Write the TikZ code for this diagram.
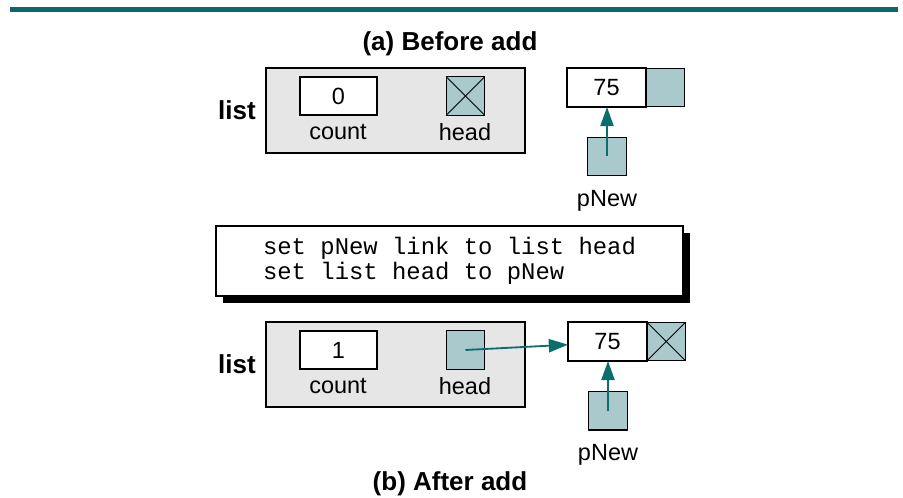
\documentclass[tikz,border=0pt]{standalone}
\usepackage{fontspec}
\setmainfont{Liberation Sans}
\setmonofont{Liberation Mono}
\definecolor{rulteal}{HTML}{0B6868}
\definecolor{lnkteal}{HTML}{0B6E6E}
\definecolor{ptrfill}{HTML}{A9C9CC}
\definecolor{lstgray}{HTML}{E6E6E6}
\usetikzlibrary{arrows.meta, positioning, shadows}

\begin{document}
\begin{tikzpicture}[
  lstbox/.style={draw, fill=lstgray, line width=0.8pt, outer sep=0pt,
                 minimum width=6.475cm, minimum height=2.125cm},
  fieldbox/.style={draw, fill=white, line width=0.8pt, outer sep=0pt,
                   minimum width=1.925cm, minimum height=0.95cm,
                   font=\fontsize{16.7}{20}\selectfont},
  databox/.style={fieldbox, minimum width=1.975cm, minimum height=0.975cm},
  ptrbox/.style={draw, fill=ptrfill, line width=0.8pt, outer sep=0pt,
                 minimum size=0.96cm, inner sep=0pt},
  nilbox/.style={ptrbox, path picture={
                   \draw[line width=0.6pt] (path picture bounding box.north west)
                     -- (path picture bounding box.south east)
                     (path picture bounding box.south west)
                     -- (path picture bounding box.north east);}},
  lbl/.style={font=\fontsize{16.7}{20}\selectfont, inner sep=0pt},
  ttl/.style={font=\fontsize{18.5}{22}\selectfont\bfseries, inner sep=0pt},
  codebox/.style={draw, fill=white, line width=0.8pt, align=left,
                  minimum width=11.675cm, minimum height=1.75cm,
                  font=\fontsize{17}{17.8}\selectfont\ttfamily,
                  drop shadow={shadow xshift=0.17cm, shadow yshift=-0.17cm,
                               fill=black, opacity=1}},
  link/.style={-{Triangle[length=0.48cm, width=0.33cm]}, draw=lnkteal,
               fill=lnkteal, line width=1.3pt},
]
  \useasboundingbox (0,0) rectangle (22.575,-12.45);
  \fill[rulteal] (0.25,-0.175) rectangle (22.45,-0.3);

  % (a) before add
  \node[ttl] (ttla) at (11.25,-1.09) {(a) Before add};
  \node[lstbox] (lista) at (9.8875,-2.7625) {};
  \node[ttl] (lstlbla) at (5.925,-2.75) {list};
  \node[fieldbox] (counta) at (8.4625,-2.4) {0};
  \node[nilbox] (heada) at (11.6375,-2.4) {};
  \node[lbl] (cntlbla) at (8.45,-3.31) {count};
  \node[lbl] (hdlbla) at (11.625,-3.31) {head};

  \node[databox] (dataa) at (15.1625,-2.1875) {75};
  \node[ptrbox, right=0pt of dataa] (linka) {};
  \node[ptrbox] (pnewa) at (15.175,-3.9125) {};
  \node[lbl] (pnlbla) at (15.175,-5.02) {pNew};
  \draw[link] (pnewa.center) -- (dataa.south -| pnewa.center);

  % algorithm
  \node[codebox] (algo) at (11.2375,-6.525)
    {set pNew link to list head\\set list head to pNew};

  % (b) after add
  \node[lstbox] (listb) at (9.8875,-9.1125) {};
  \node[ttl] (lstlblb) at (5.925,-9.1) {list};
  \node[fieldbox] (countb) at (8.4625,-8.75) {1};
  \node[ptrbox] (headb) at (11.6375,-8.75) {};
  \node[lbl] (cntlblb) at (8.45,-9.66) {count};
  \node[lbl] (hdlblb) at (11.625,-9.66) {head};

  \node[databox] (datab) at (15.1875,-8.5375) {75};
  \node[nilbox, right=0pt of datab] (linkb) {};
  \node[ptrbox] (pnewb) at (15.2,-10.27) {};
  \node[lbl] (pnlblb) at (15.2,-11.38) {pNew};
  \draw[link] (pnewb.center) -- (datab.south -| pnewb.center);
  \draw[link] (headb.center) -- ([yshift=-0.08cm]datab.west);

  \node[ttl] (ttlb) at (11.25,-12.1) {(b) After add};
\end{tikzpicture}
\end{document}
